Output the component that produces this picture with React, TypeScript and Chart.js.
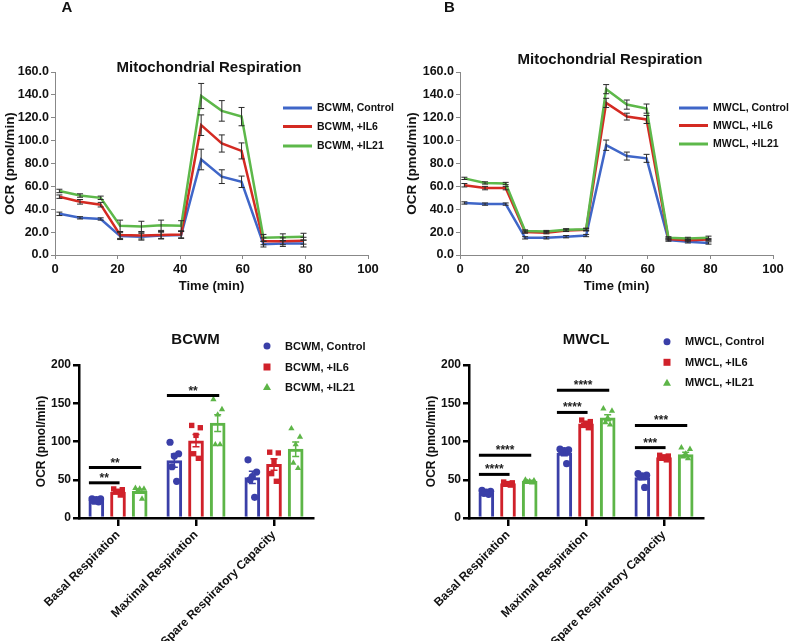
import React, { useEffect, useRef } from 'react';
import { Chart, registerables } from 'chart.js';
Chart.register(...registerables);

const FONT = "'Liberation Sans', Arial, Helvetica, sans-serif";

// ---------- Time course (top panels) ----------
const TIME_MIN = [1.4, 8.0, 14.6, 20.8, 27.6, 33.9, 40.3, 46.7, 53.3, 59.6, 66.6, 72.8, 79.4];

const BCWM_CONTROL = [36, 32.5, 31.5, 16.5, 16, 17, 17.5, 83.5, 68.5, 64, 9.5, 10, 10];
const BCWM_CONTROL_SEM = [1.5, 1, 1, 3, 3, 3, 3, 9, 6, 5, 2.5, 2.5, 3];
const BCWM_IL6 = [51, 46.5, 44, 17.5, 17, 17.5, 18, 113.5, 97.5, 91, 12, 12, 12.5];
const BCWM_IL6_SEM = [1.5, 2, 2, 3, 3, 3, 3, 9, 7.5, 7, 3, 3, 3];
const BCWM_IL21 = [56, 52, 50, 25.5, 25, 26, 25.5, 139, 126, 121, 15, 15.5, 16];
const BCWM_IL21_SEM = [1.5, 1.5, 1.5, 5, 4.5, 4.5, 4.5, 11, 9, 8, 3, 3, 3];

const MWCL_CONTROL = [45.5, 44.5, 44.5, 15, 15, 16, 17, 96, 86.5, 84.5, 13, 11.5, 10.5];
const MWCL_CONTROL_SEM = [1, 1, 1, 1, 1, 1, 1, 4.5, 3.5, 3.5, 1, 1, 1];
const MWCL_IL6 = [61, 58.5, 58.5, 20, 19.5, 21.5, 22, 133, 121, 118.5, 14, 13, 13.5];
const MWCL_IL6_SEM = [1.5, 1.5, 1.5, 1, 1, 1, 1, 4, 3, 3.5, 1, 1, 1];
const MWCL_IL21 = [67, 63, 62.5, 21, 20.5, 22, 22.5, 145, 131.5, 128, 15, 14.5, 15];
const MWCL_IL21_SEM = [1, 1, 1, 1, 1, 1, 1, 4, 4, 4, 1, 1, 1.5];

// ---------- Bar + dot plots (bottom panels) ----------
const CATEGORIES = ['Basal Respiration', 'Maximal Respiration', 'Spare Respiratory Capacity'];

const BCWM_MEAN_CONTROL = [23, 75, 53];
const BCWM_MEAN_IL6 = [34, 101, 70];
const BCWM_MEAN_IL21 = [35, 124, 90];
const BCWM_SEM_CONTROL = [1, 8.5, 8];
const BCWM_SEM_IL6 = [1.5, 8, 7.5];
const BCWM_SEM_IL21 = [2.5, 11, 9.5];

const BCWM_BASAL_CONTROL = [25, 25, 24, 22, 21];
const BCWM_BASAL_IL6 = [38, 37, 35, 34, 30];
const BCWM_BASAL_IL21 = [39, 38, 38, 35, 25];
const BCWM_MAX_CONTROL = [99, 84, 81, 67, 48];
const BCWM_MAX_IL6 = [121, 118, 108, 84, 78];
const BCWM_MAX_IL21 = [155, 142, 135, 96, 96];
const BCWM_SPARE_CONTROL = [76, 60, 54, 50, 27];
const BCWM_SPARE_IL6 = [86, 85, 74, 58, 48];
const BCWM_SPARE_IL21 = [117, 106, 96, 72, 65];

const MWCL_MEAN_CONTROL = [33, 85, 53];
const MWCL_MEAN_IL6 = [45, 123, 79];
const MWCL_MEAN_IL21 = [48, 131, 83];
const MWCL_SEM_CONTROL = [1, 3.5, 3];
const MWCL_SEM_IL6 = [1, 2.5, 1.5];
const MWCL_SEM_IL21 = [1, 4, 3];

const MWCL_BASAL_CONTROL = [36, 35, 34, 32, 31];
const MWCL_BASAL_IL6 = [47, 46, 45, 44, 43];
const MWCL_BASAL_IL21 = [50, 49, 48, 47, 46];
const MWCL_MAX_CONTROL = [90, 89, 88, 87, 71];
const MWCL_MAX_IL6 = [128, 126, 124, 121, 118];
const MWCL_MAX_IL21 = [143, 140, 131, 125, 122];
const MWCL_SPARE_CONTROL = [58, 56, 55, 54, 40];
const MWCL_SPARE_IL6 = [82, 81, 80, 78, 76];
const MWCL_SPARE_IL21 = [92, 90, 84, 80, 78];

// significance: [category, fromGroup, toGroup, yValue, label]
const BCWM_SIG: [number, number, number, number, string][] = [
  [0, 0, 1, 46, '**'],
  [0, 0, 2, 66, '**'],
  [1, 0, 2, 160, '**'],
];
const MWCL_SIG: [number, number, number, number, string][] = [
  [0, 0, 1, 57, '****'],
  [0, 0, 2, 82, '****'],
  [1, 0, 1, 138, '****'],
  [1, 0, 2, 167, '****'],
  [2, 0, 1, 92, '***'],
  [2, 0, 2, 121, '***'],
];

// ---------- styles ----------
const LINE_COLORS = ['#3F66C8', '#D42A22', '#5DB84A'];
const BAR_COLORS = ['#3A3FA8', '#D0212A', '#5DB547'];
const GROUP_OFFSET = [-0.278, 0, 0.278];
const JITTER = [-0.055, 0.055, 0, -0.03, 0.03];

const f = (size: number) => ({ family: FONT, size, weight: 'bold' as const });

type Series = { label: string; values: number[]; sem: number[] };

function makeLineConfig(o: {
  series: Series[];
  yWidth: number;
  padRight: number;
  yTitlePad: number;
  titleX: number;
  titleY: number;
  legendX: number;
  legendRows: number[];
  letter: string;
  letterX: number;
}): any {
  const overlay = {
    id: 'overlay',
    afterDatasetsDraw(chart: any) {
      const { ctx } = chart;
      const xs = chart.scales.x;
      const ys = chart.scales.y;
      ctx.save();
      ctx.strokeStyle = '#2a2a2a';
      ctx.lineWidth = 1;
      o.series.forEach((s) => {
        s.values.forEach((v, i) => {
          const px = xs.getPixelForValue(TIME_MIN[i]);
          const t = ys.getPixelForValue(v + s.sem[i]);
          const b = ys.getPixelForValue(v - s.sem[i]);
          ctx.beginPath();
          ctx.moveTo(px, t);
          ctx.lineTo(px, b);
          ctx.moveTo(px - 3, t);
          ctx.lineTo(px + 3, t);
          ctx.moveTo(px - 3, b);
          ctx.lineTo(px + 3, b);
          ctx.stroke();
        });
      });
      ctx.restore();
    },
    afterDraw(chart: any) {
      const { ctx } = chart;
      ctx.save();
      ctx.fillStyle = '#111';
      ctx.textBaseline = 'middle';
      ctx.textAlign = 'center';
      ctx.font = `bold 15px ${FONT}`;
      ctx.fillText('Mitochondrial Respiration', o.titleX, o.titleY);
      ctx.fillText(o.letter, o.letterX, 8);
      ctx.textAlign = 'left';
      ctx.font = `bold 10.5px ${FONT}`;
      o.series.forEach((s, i) => {
        const y = o.legendRows[i];
        ctx.strokeStyle = LINE_COLORS[i];
        ctx.lineWidth = 3;
        ctx.beginPath();
        ctx.moveTo(o.legendX, y);
        ctx.lineTo(o.legendX + 29, y);
        ctx.stroke();
        ctx.fillText(s.label, o.legendX + 34, y + 0.5);
      });
      ctx.restore();
    },
  };
  return {
    type: 'line',
    data: {
      datasets: o.series.map((s, i) => ({
        label: s.label,
        data: TIME_MIN.map((t, k) => ({ x: t, y: s.values[k] })),
        borderColor: LINE_COLORS[i],
        backgroundColor: LINE_COLORS[i],
        borderWidth: 2.5,
        pointRadius: 0,
        tension: 0,
        order: 3 - i,
      })),
    },
    options: {
      responsive: false,
      maintainAspectRatio: false,
      animation: false,
      devicePixelRatio: 1,
      layout: { padding: { left: 0, top: 72, right: o.padRight, bottom: 0 } },
      plugins: { legend: { display: false }, title: { display: false }, tooltip: { enabled: false } },
      scales: {
        x: {
          type: 'linear',
          min: 0,
          max: 100,
          ticks: { stepSize: 20, font: f(13), color: '#111', padding: 3 },
          grid: { drawOnChartArea: false, drawTicks: true, tickLength: 4, color: '#888' },
          border: { color: '#888', width: 1 },
          title: { display: true, text: 'Time (min)', font: f(13), color: '#111', padding: { top: 0, bottom: 6 } },
          afterFit: (s: any) => {
            s.height = 45;
          },
        },
        y: {
          type: 'linear',
          min: 0,
          max: 160,
          ticks: { stepSize: 20, font: f(12.5), color: '#111', padding: 2, callback: (v: any) => Number(v).toFixed(1) },
          grid: { drawOnChartArea: false, drawTicks: true, tickLength: 4, color: '#888' },
          border: { color: '#888', width: 1 },
          title: { display: true, text: 'OCR (pmol/min)', font: f(13.5), color: '#111', padding: { top: o.yTitlePad, bottom: 0 } },
          afterFit: (s: any) => {
            s.width = o.yWidth;
          },
        },
      },
    },
    plugins: [overlay],
  };
}

function makeBarConfig(o: {
  name: string;
  means: number[][];
  sems: number[][];
  points: number[][][]; // [group][category][k]
  sig: [number, number, number, number, string][];
  yWidth: number;
  padRight: number;
  yTitlePad: number;
  titleX: number;
  legendX: number;
  legendRows: number[];
}): any {
  const labels = [`${o.name}, Control`, `${o.name}, +IL6`, `${o.name}, +IL21`];
  const styles = ['circle', 'rect', 'triangle'];
  const overlay = {
    id: 'overlay',
    afterDatasetsDraw(chart: any) {
      const { ctx } = chart;
      const xl = chart.scales.xl;
      const ys = chart.scales.y;
      ctx.save();
      o.means.forEach((m, g) => {
        m.forEach((v, c) => {
          const px = xl.getPixelForValue(c + GROUP_OFFSET[g]);
          const t = ys.getPixelForValue(v + o.sems[g][c]);
          const b = ys.getPixelForValue(v - o.sems[g][c]);
          ctx.strokeStyle = BAR_COLORS[g];
          ctx.lineWidth = 1.5;
          ctx.beginPath();
          ctx.moveTo(px, t);
          ctx.lineTo(px, b);
          ctx.moveTo(px - 3.5, t);
          ctx.lineTo(px + 3.5, t);
          ctx.moveTo(px - 3.5, b);
          ctx.lineTo(px + 3.5, b);
          ctx.stroke();
        });
      });
      ctx.strokeStyle = '#000';
      ctx.fillStyle = '#222';
      ctx.lineWidth = 3;
      ctx.font = `bold 12px ${FONT}`;
      ctx.textAlign = 'center';
      ctx.textBaseline = 'alphabetic';
      o.sig.forEach(([c, a, b, v, txt]) => {
        const x1 = xl.getPixelForValue(c + GROUP_OFFSET[a] - 0.095);
        const x2 = xl.getPixelForValue(c + GROUP_OFFSET[b] + 0.02);
        const y = ys.getPixelForValue(v);
        ctx.beginPath();
        ctx.moveTo(x1, y);
        ctx.lineTo(x2, y);
        ctx.stroke();
        ctx.fillText(txt, (x1 + x2) / 2, y - 1);
      });
      ctx.restore();
    },
    afterDraw(chart: any) {
      const { ctx } = chart;
      ctx.save();
      ctx.fillStyle = '#111';
      ctx.textAlign = 'center';
      ctx.textBaseline = 'middle';
      ctx.font = `bold 15px ${FONT}`;
      ctx.fillText(o.name, o.titleX, 40);
      ctx.textAlign = 'left';
      ctx.font = `bold 11px ${FONT}`;
      labels.forEach((l, g) => {
        const y = o.legendRows[g];
        const x = o.legendX;
        ctx.fillStyle = BAR_COLORS[g];
        ctx.beginPath();
        if (g === 0) {
          ctx.arc(x, y, 3.5, 0, Math.PI * 2);
        } else if (g === 1) {
          ctx.rect(x - 3.5, y - 3.5, 7, 7);
        } else {
          ctx.moveTo(x, y - 4);
          ctx.lineTo(x + 4, y + 3);
          ctx.lineTo(x - 4, y + 3);
          ctx.closePath();
        }
        ctx.fill();
        ctx.fillStyle = '#111';
        ctx.fillText(l, x + 18, y + 0.5);
      });
      ctx.restore();
    },
  };
  const bars = o.means.map((m, g) => ({
    type: 'bar',
    label: labels[g],
    data: m.map((v, c) => ({ x: c + GROUP_OFFSET[g], y: v })),
    xAxisID: 'xl',
    yAxisID: 'y',
    grouped: false,
    barThickness: 15,
    backgroundColor: '#ffffff',
    borderColor: BAR_COLORS[g],
    borderWidth: 3,
    order: 2,
  }));
  const dots = o.points.map((grp, g) => ({
    type: 'scatter',
    label: labels[g] + ' pts',
    data: grp.flatMap((vals, c) => vals.map((v, k) => ({ x: c + GROUP_OFFSET[g] + JITTER[k], y: v }))),
    xAxisID: 'xl',
    yAxisID: 'y',
    pointStyle: styles[g],
    pointRadius: g === 1 ? 3.8 : 3.6,
    backgroundColor: BAR_COLORS[g],
    borderColor: BAR_COLORS[g],
    borderWidth: 0,
    order: 1,
  }));
  return {
    type: 'bar',
    data: { labels: CATEGORIES, datasets: [...bars, ...dots] },
    options: {
      responsive: false,
      maintainAspectRatio: false,
      animation: false,
      devicePixelRatio: 1,
      layout: { padding: { left: 0, top: 65, right: o.padRight, bottom: 0 } },
      plugins: { legend: { display: false }, title: { display: false }, tooltip: { enabled: false } },
      scales: {
        x: {
          type: 'category',
          labels: CATEGORIES,
          offset: true,
          ticks: { minRotation: 45, maxRotation: 45, font: f(12), color: '#111', padding: 2, autoSkip: false },
          grid: { offset: false, drawOnChartArea: false, drawTicks: true, tickLength: 8, color: '#000', lineWidth: 2.5 },
          border: { color: '#000', width: 2.5 },
          afterFit: (s: any) => {
            s.height = 123;
          },
        },
        xl: { type: 'linear', display: false, offset: false, bounds: 'data', min: -0.5, max: 2.5, grid: { offset: false } },
        y: {
          type: 'linear',
          min: 0,
          max: 200,
          ticks: { stepSize: 50, font: f(12), color: '#111', padding: 2 },
          grid: { drawOnChartArea: false, drawTicks: true, tickLength: 6, color: '#000', lineWidth: 2.5 },
          border: { color: '#000', width: 2.5 },
          title: { display: true, text: 'OCR (pmol/min)', font: f(12), color: '#111', padding: { top: o.yTitlePad, bottom: 0 } },
          afterFit: (s: any) => {
            s.width = o.yWidth;
          },
        },
      },
    },
    plugins: [overlay],
  };
}

function ChartBox({ x, y, w, h, make }: { x: number; y: number; w: number; h: number; make: () => any }) {
  const ref = useRef<HTMLCanvasElement>(null);
  useEffect(() => {
    const chart = new Chart(ref.current as HTMLCanvasElement, make());
    return () => chart.destroy();
  }, []);
  return (
    <div style={{ position: 'absolute', left: x, top: y, width: w, height: h }}>
      <canvas ref={ref} width={w} height={h} style={{ width: w, height: h, display: 'block' }} />
    </div>
  );
}

export default function App() {
  return (
    <div style={{ position: 'absolute', left: 0, top: 0, width: 789, height: 641, background: '#fff', overflow: 'hidden' }}>
      <ChartBox
        x={0}
        y={0}
        w={395}
        h={300}
        make={() =>
          makeLineConfig({
            series: [
              { label: 'BCWM, Control', values: BCWM_CONTROL, sem: BCWM_CONTROL_SEM },
              { label: 'BCWM, +IL6', values: BCWM_IL6, sem: BCWM_IL6_SEM },
              { label: 'BCWM, +IL21', values: BCWM_IL21, sem: BCWM_IL21_SEM },
            ],
            yWidth: 55,
            padRight: 27,
            yTitlePad: 2,
            titleX: 209,
            titleY: 68,
            legendX: 283,
            legendRows: [108, 126.5, 146],
            letter: 'A',
            letterX: 67,
          })
        }
      />
      <ChartBox
        x={395}
        y={0}
        w={394}
        h={300}
        make={() =>
          makeLineConfig({
            series: [
              { label: 'MWCL, Control', values: MWCL_CONTROL, sem: MWCL_CONTROL_SEM },
              { label: 'MWCL, +IL6', values: MWCL_IL6, sem: MWCL_IL6_SEM },
              { label: 'MWCL, +IL21', values: MWCL_IL21, sem: MWCL_IL21_SEM },
            ],
            yWidth: 65,
            padRight: 16,
            yTitlePad: 9,
            titleX: 215,
            titleY: 60,
            legendX: 284,
            legendRows: [108, 125.5, 144],
            letter: 'B',
            letterX: 54.5,
          })
        }
      />
      <ChartBox
        x={0}
        y={300}
        w={395}
        h={341}
        make={() =>
          makeBarConfig({
            name: 'BCWM',
            means: [BCWM_MEAN_CONTROL, BCWM_MEAN_IL6, BCWM_MEAN_IL21],
            sems: [BCWM_SEM_CONTROL, BCWM_SEM_IL6, BCWM_SEM_IL21],
            points: [
              [BCWM_BASAL_CONTROL, BCWM_MAX_CONTROL, BCWM_SPARE_CONTROL],
              [BCWM_BASAL_IL6, BCWM_MAX_IL6, BCWM_SPARE_IL6],
              [BCWM_BASAL_IL21, BCWM_MAX_IL21, BCWM_SPARE_IL21],
            ],
            sig: BCWM_SIG,
            yWidth: 79,
            padRight: 82,
            yTitlePad: 34.5,
            titleX: 195.5,
            legendX: 267,
            legendRows: [46, 67, 87],
          })
        }
      />
      <ChartBox
        x={395}
        y={300}
        w={394}
        h={341}
        make={() =>
          makeBarConfig({
            name: 'MWCL',
            means: [MWCL_MEAN_CONTROL, MWCL_MEAN_IL6, MWCL_MEAN_IL21],
            sems: [MWCL_SEM_CONTROL, MWCL_SEM_IL6, MWCL_SEM_IL21],
            points: [
              [MWCL_BASAL_CONTROL, MWCL_MAX_CONTROL, MWCL_SPARE_CONTROL],
              [MWCL_BASAL_IL6, MWCL_MAX_IL6, MWCL_SPARE_IL6],
              [MWCL_BASAL_IL21, MWCL_MAX_IL21, MWCL_SPARE_IL21],
            ],
            sig: MWCL_SIG,
            yWidth: 74,
            padRight: 86,
            yTitlePad: 29.5,
            titleX: 191,
            legendX: 272,
            legendRows: [41.7, 62.3, 82.7],
          })
        }
      />
    </div>
  );
}
